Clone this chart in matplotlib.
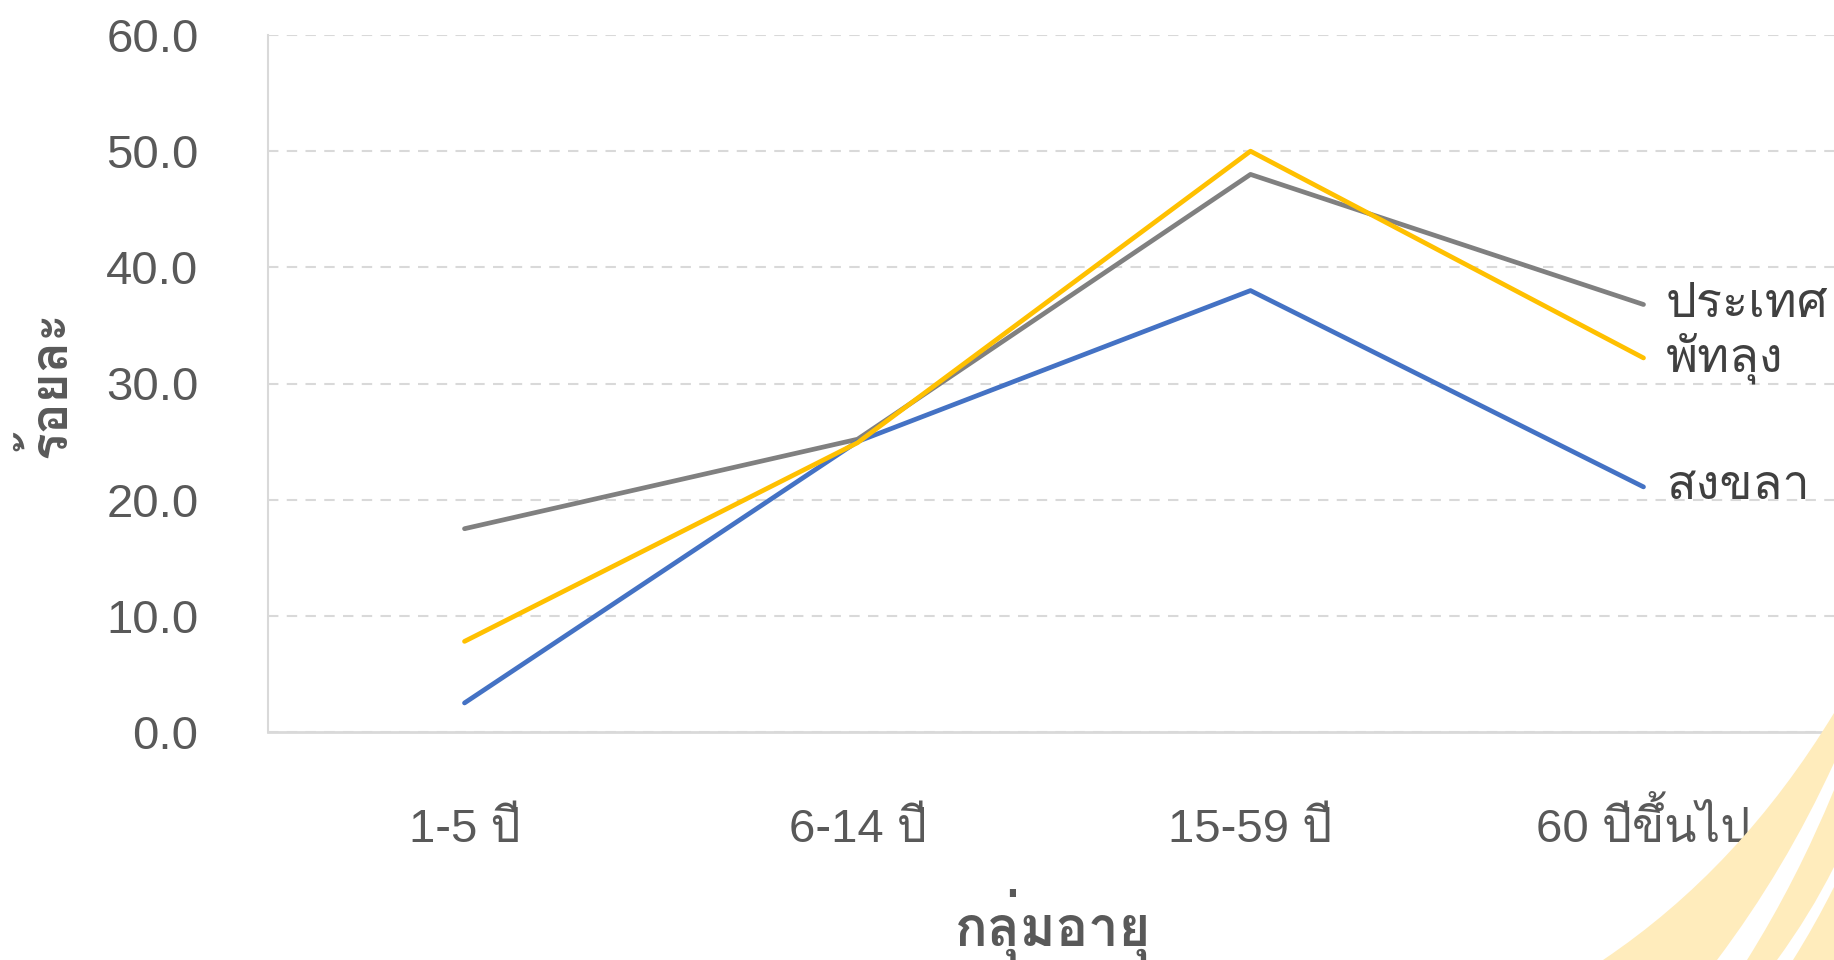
import matplotlib
matplotlib.use("Agg")
import matplotlib.pyplot as plt
from matplotlib.patches import PathPatch
from matplotlib.path import Path
from matplotlib.transforms import blended_transform_factory

# ---- data -------------------------------------------------------------
age_groups = ["1-5 ปี", "6-14 ปี", "15-59 ปี", "60 ปีขึ้นไป"]
series_names = ["ประเทศ", "พัทลุง", "สงขลา"]
thailand = [17.5, 25.2, 48.0, 36.8]
phatthalung = [7.8, 24.9, 50.0, 32.2]
songkhla = [2.5, 25.0, 38.0, 21.1]
y_ticks = [0, 10, 20, 30, 40, 50, 60]
x_title = "กลุ่มอายุ"
y_title = "ร้อยละ"

THAI = ["Loma", "IBM Plex Sans Thai Looped", "Noto Sans Thai Looped", "DejaVu Sans"]
MIXED = ["Liberation Sans"] + THAI
plt.rcParams["font.family"] = MIXED

W, H = 1834, 960
fig = plt.figure(figsize=(W / 100, H / 100), dpi=100)
ax = fig.add_axes([268 / W, 1 - 732 / H, (1840 - 268) / W, (732 - 35) / H])
ax.set_facecolor("none")


# pale swooshes in the lower-right corner (figure pixel coords, y down)
def band(outer, inner):
    pts = outer + inner[::-1]
    codes = ([Path.MOVETO, Path.CURVE3, Path.CURVE3, Path.LINETO, Path.CURVE3, Path.CURVE3,
              Path.CLOSEPOLY])
    verts = [(x / W, 1 - y / H) for x, y in pts] + [(outer[0][0] / W, 1 - outer[0][1] / H)]
    fig.patches.append(PathPatch(Path(verts, codes), transform=fig.transFigure,
                                 facecolor="#FFECBC", edgecolor="none", zorder=0))


band([(1603, 960), (1740, 868), (1834, 713)], [(1717, 960), (1785, 870), (1834, 763)])
band([(1747, 960), (1797, 880), (1834, 790)], [(1777, 960), (1810, 915), (1834, 867)])
band([(1793, 960), (1815, 925), (1834, 887)], [(1834, 960), (1834, 960), (1834, 960)])

x = range(len(age_groups))
ax.plot(x, thailand, color="#808080", lw=3.4, solid_capstyle="round", zorder=3)
ax.plot(x, phatthalung, color="#FFC000", lw=3.4, solid_capstyle="round", zorder=4)
ax.plot(x, songkhla, color="#4472C4", lw=3.4, solid_capstyle="round", zorder=3)

for name, vals in zip(series_names, [thailand, phatthalung, songkhla]):
    ax.annotate(name, xy=(3, vals[-1]), xytext=(16, 0), textcoords="offset points",
                va="center", ha="left", fontsize=35, color="#404040",
                family=THAI, annotation_clip=False)

ax.set_xlim(-0.5, 3.5)
ax.set_ylim(0, 60)
ax.set_yticks(y_ticks)
ax.set_yticklabels([f"{v:.1f}" for v in y_ticks], fontsize=34, color="#595959",
                   family=["Liberation Sans", "DejaVu Sans"])
ax.set_xticks(list(x))
ax.set_xticklabels([])
ax.tick_params(axis="both", length=0)
ax.tick_params(axis="y", pad=50)

# category labels, all on a common baseline
base = blended_transform_factory(ax.transData, fig.transFigure)
for i, lab in enumerate(age_groups):
    ax.text(i, 1 - 842 / H, lab, transform=base, ha="center", va="baseline",
            fontsize=34, color="#595959", family=MIXED)

ax.yaxis.grid(True, color="#D9D9D9", lw=1.5, ls=(0, (5, 4)))
ax.set_axisbelow(True)
for s in ["top", "right"]:
    ax.spines[s].set_visible(False)
ax.spines["left"].set_color("#D9D9D9")
ax.spines["left"].set_linewidth(1.5)
ax.spines["bottom"].set_color("#D9D9D9")
ax.spines["bottom"].set_linewidth(2)
ax.spines["bottom"].set_zorder(5)

fig.text(1053 / W, 1 - 924 / H, x_title, ha="center", va="center", fontsize=39,
         fontweight="bold", color="#595959", family=THAI)
fig.text(47 / W, 1 - 384 / H, y_title, ha="center", va="center", rotation=90, fontsize=37,
         fontweight="bold", color="#595959", family=THAI)

fig.savefig("out.png", dpi=100)
